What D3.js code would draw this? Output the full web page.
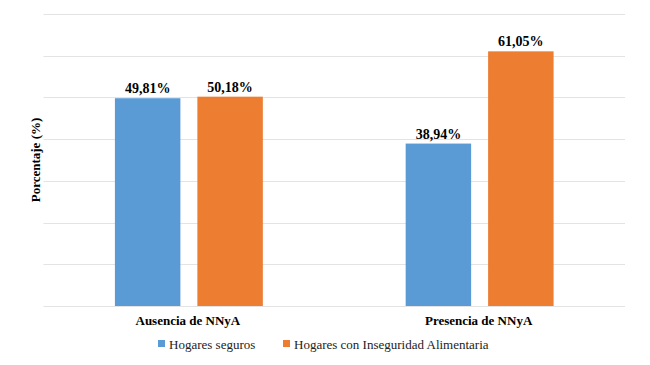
<!DOCTYPE html>
<html>
<head>
<meta charset="utf-8">
<script src="https://cdn.jsdelivr.net/npm/d3@7"></script>
<style>
  body { margin: 0; background: #fff; }
  svg { display: block; }
</style>
</head>
<body>
<svg id="chart"></svg>
<script>
// Data
const categories = ['Ausencia de NNyA', 'Presencia de NNyA'];
const seriesNames = ['Hogares seguros', 'Hogares con Inseguridad Alimentaria'];
const hogaresSeguros = [49.81, 38.94];
const hogaresInseguridad = [50.18, 61.05];
const yTicks = [0, 10, 20, 30, 40, 50, 60, 70];

const colors = ['#5b9bd5', '#ed7d31'];
const serif = 'Times New Roman, Times, Liberation Serif, serif';

const width = 650;
const height = 365;
const margin = { top: 14, right: 25, bottom: 59, left: 43.5 };

const svg = d3.select('#chart')
  .attr('width', width)
  .attr('height', height)
  .style('font-family', serif);

// Scales
const x0 = d3.scaleBand()
  .domain(categories)
  .range([margin.left, width - margin.right])
  .padding(0);

const x1 = d3.scaleBand()
  .domain(seriesNames)
  .range([0, x0.bandwidth()])
  .paddingInner(0.206)
  .paddingOuter(0.866);

const y = d3.scaleLinear()
  .domain([0, 70])
  .range([height - margin.bottom, margin.top]);

const color = d3.scaleOrdinal().domain(seriesNames).range(colors);

// Gridlines (no tick labels in the original)
svg.append('g')
  .selectAll('line')
  .data(yTicks)
  .join('line')
  .attr('x1', margin.left)
  .attr('x2', width - margin.right)
  .attr('y1', (d) => Math.round(y(d)) + 0.5)
  .attr('y2', (d) => Math.round(y(d)) + 0.5)
  .attr('stroke', '#e3e3e3')
  .attr('stroke-width', 1);

// Rows for grouped bars
const rows = categories.map((c, i) => ({
  category: c,
  values: [
    { key: seriesNames[0], value: hogaresSeguros[i] },
    { key: seriesNames[1], value: hogaresInseguridad[i] },
  ],
}));

const groups = svg.append('g')
  .selectAll('g')
  .data(rows)
  .join('g')
  .attr('transform', (d) => `translate(${x0(d.category)},0)`);

groups.selectAll('rect')
  .data((d) => d.values)
  .join('rect')
  .attr('x', (d) => x1(d.key))
  .attr('y', (d) => y(d.value))
  .attr('width', x1.bandwidth())
  .attr('height', (d) => y(0) - y(d.value))
  .attr('fill', (d) => color(d.key));

// Value labels
groups.selectAll('text')
  .data((d) => d.values)
  .join('text')
  .attr('x', (d) => x1(d.key) + x1.bandwidth() / 2)
  .attr('y', (d) => y(d.value) - 5)
  .attr('text-anchor', 'middle')
  .style('font-size', '14px')
  .style('font-weight', 'bold')
  .style('fill', '#000')
  .text((d) => d.value.toFixed(2).replace('.', ',') + '%');

// Category labels
svg.append('g')
  .selectAll('text')
  .data(categories)
  .join('text')
  .attr('x', (d) => x0(d) + x0.bandwidth() / 2 - 1)
  .attr('y', 325)
  .attr('text-anchor', 'middle')
  .style('font-size', '13px')
  .style('font-weight', 'bold')
  .style('fill', '#000')
  .text((d) => d);

// Y axis title
svg.append('text')
  .attr('transform', `translate(40,${(margin.top + height - margin.bottom) / 2}) rotate(-90)`)
  .attr('text-anchor', 'middle')
  .style('font-size', '13px')
  .style('font-weight', 'bold')
  .style('fill', '#000')
  .text('Porcentaje (%)');

// Legend
const legendX = [158, 283];
const legend = svg.append('g')
  .selectAll('g')
  .data(seriesNames)
  .join('g')
  .attr('transform', (d, i) => `translate(${legendX[i]},344)`);

legend.append('rect')
  .attr('x', 0)
  .attr('y', -4)
  .attr('width', 7)
  .attr('height', 7)
  .attr('fill', (d) => color(d));

legend.append('text')
  .attr('x', 11)
  .attr('y', 4.5)
  .style('font-size', '13px')
  .style('fill', '#222')
  .text((d) => d);
</script>
</body>
</html>
